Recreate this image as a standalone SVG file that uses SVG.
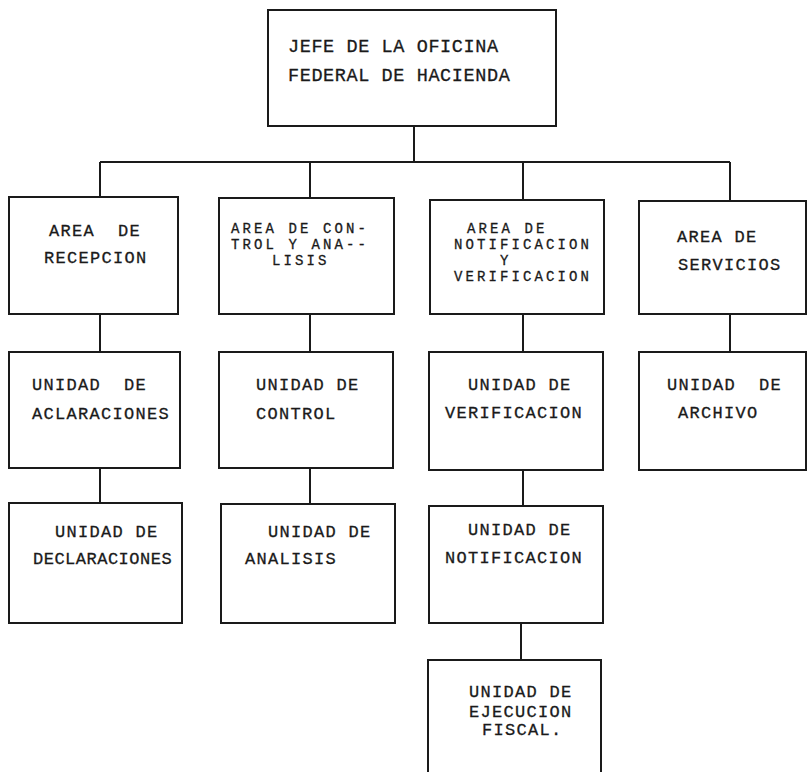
<svg xmlns="http://www.w3.org/2000/svg" width="807" height="772" viewBox="0 0 807 772">
<style>
.bx{fill:none;stroke:#1a1a1a;stroke-width:2}
.cn{fill:none;stroke:#1a1a1a;stroke-width:2}
.t{font-family:"Liberation Mono","Courier New",monospace;font-size:17px;letter-spacing:1.3px;fill:#1a1a1a;stroke:#1a1a1a;stroke-width:0.3}
.s{font-size:14px;letter-spacing:3.1px}
.tt{font-family:"Liberation Mono","Courier New",monospace;font-size:18.5px;letter-spacing:0.6px;fill:#1a1a1a;stroke:#1a1a1a;stroke-width:0.3}
</style>
<rect width="807" height="772" fill="#ffffff"/>
<g id="connectors">
<path class="cn" d="M414 126V162M100 162H730M100 162V197M310 162V198M523 162V200M730 162V201"/>
<path class="cn" d="M100 314V352M310 314V352M523 314V352M730 314V352"/>
<path class="cn" d="M100 468V503M310 468V504M523 470V506M521 623V660"/>
</g>
<g id="jefe">
<rect class="bx" x="268" y="10" width="288" height="116"/>
<text class="tt" x="288" y="52">JEFE DE LA OFICINA</text>
<text class="tt" x="288" y="81">FEDERAL DE HACIENDA</text>
</g>
<g id="area-recepcion">
<rect class="bx" x="9" y="197" width="169" height="117"/>
<text class="t" x="49" y="236" xml:space="preserve">AREA  DE</text>
<text class="t" x="44" y="263">RECEPCION</text>
</g>
<g id="area-control">
<rect class="bx" x="219" y="198" width="175" height="116"/>
<text class="t s" x="231" y="233">AREA DE CON-</text>
<text class="t s" x="231" y="249">TROL Y ANA--</text>
<text class="t s" x="272" y="265">LISIS</text>
</g>
<g id="area-notificacion">
<rect class="bx" x="430" y="200" width="174" height="114"/>
<text class="t s" x="467" y="233">AREA DE</text>
<text class="t s" x="454" y="249">NOTIFICACION</text>
<text class="t s" x="500" y="265">Y</text>
<text class="t s" x="454" y="281">VERIFICACION</text>
</g>
<g id="area-servicios">
<rect class="bx" x="639" y="201" width="167" height="113"/>
<text class="t" x="677" y="242">AREA DE</text>
<text class="t" x="678" y="270">SERVICIOS</text>
</g>
<g id="unidad-aclaraciones">
<rect class="bx" x="9" y="352" width="171" height="116"/>
<text class="t" x="32" y="390" xml:space="preserve">UNIDAD  DE</text>
<text class="t" x="32" y="419">ACLARACIONES</text>
</g>
<g id="unidad-control">
<rect class="bx" x="219" y="352" width="174" height="116"/>
<text class="t" x="256" y="390">UNIDAD DE</text>
<text class="t" x="256" y="419">CONTROL</text>
</g>
<g id="unidad-verificacion">
<rect class="bx" x="429" y="352" width="174" height="118"/>
<text class="t" x="468" y="390">UNIDAD DE</text>
<text class="t" x="445" y="418">VERIFICACION</text>
</g>
<g id="unidad-archivo">
<rect class="bx" x="639" y="352" width="167" height="118"/>
<text class="t" x="667" y="390" xml:space="preserve">UNIDAD  DE</text>
<text class="t" x="678" y="418">ARCHIVO</text>
</g>
<g id="unidad-declaraciones">
<rect class="bx" x="9" y="503" width="173" height="120"/>
<text class="t" x="55" y="537">UNIDAD DE</text>
<text class="t" x="33" y="564" style="letter-spacing:0.5px">DECLARACIONES</text>
</g>
<g id="unidad-analisis">
<rect class="bx" x="221" y="504" width="174" height="119"/>
<text class="t" x="268" y="537">UNIDAD DE</text>
<text class="t" x="245" y="564">ANALISIS</text>
</g>
<g id="unidad-notificacion">
<rect class="bx" x="429" y="506" width="174" height="117"/>
<text class="t" x="468" y="535">UNIDAD DE</text>
<text class="t" x="445" y="563">NOTIFICACION</text>
</g>
<g id="unidad-ejecucion">
<path class="bx" d="M428 772V660H601V772"/>
<text class="t" x="469" y="697">UNIDAD DE</text>
<text class="t" x="469" y="717">EJECUCION</text>
<text class="t" x="482" y="735">FISCAL.</text>
</g>
</svg>
